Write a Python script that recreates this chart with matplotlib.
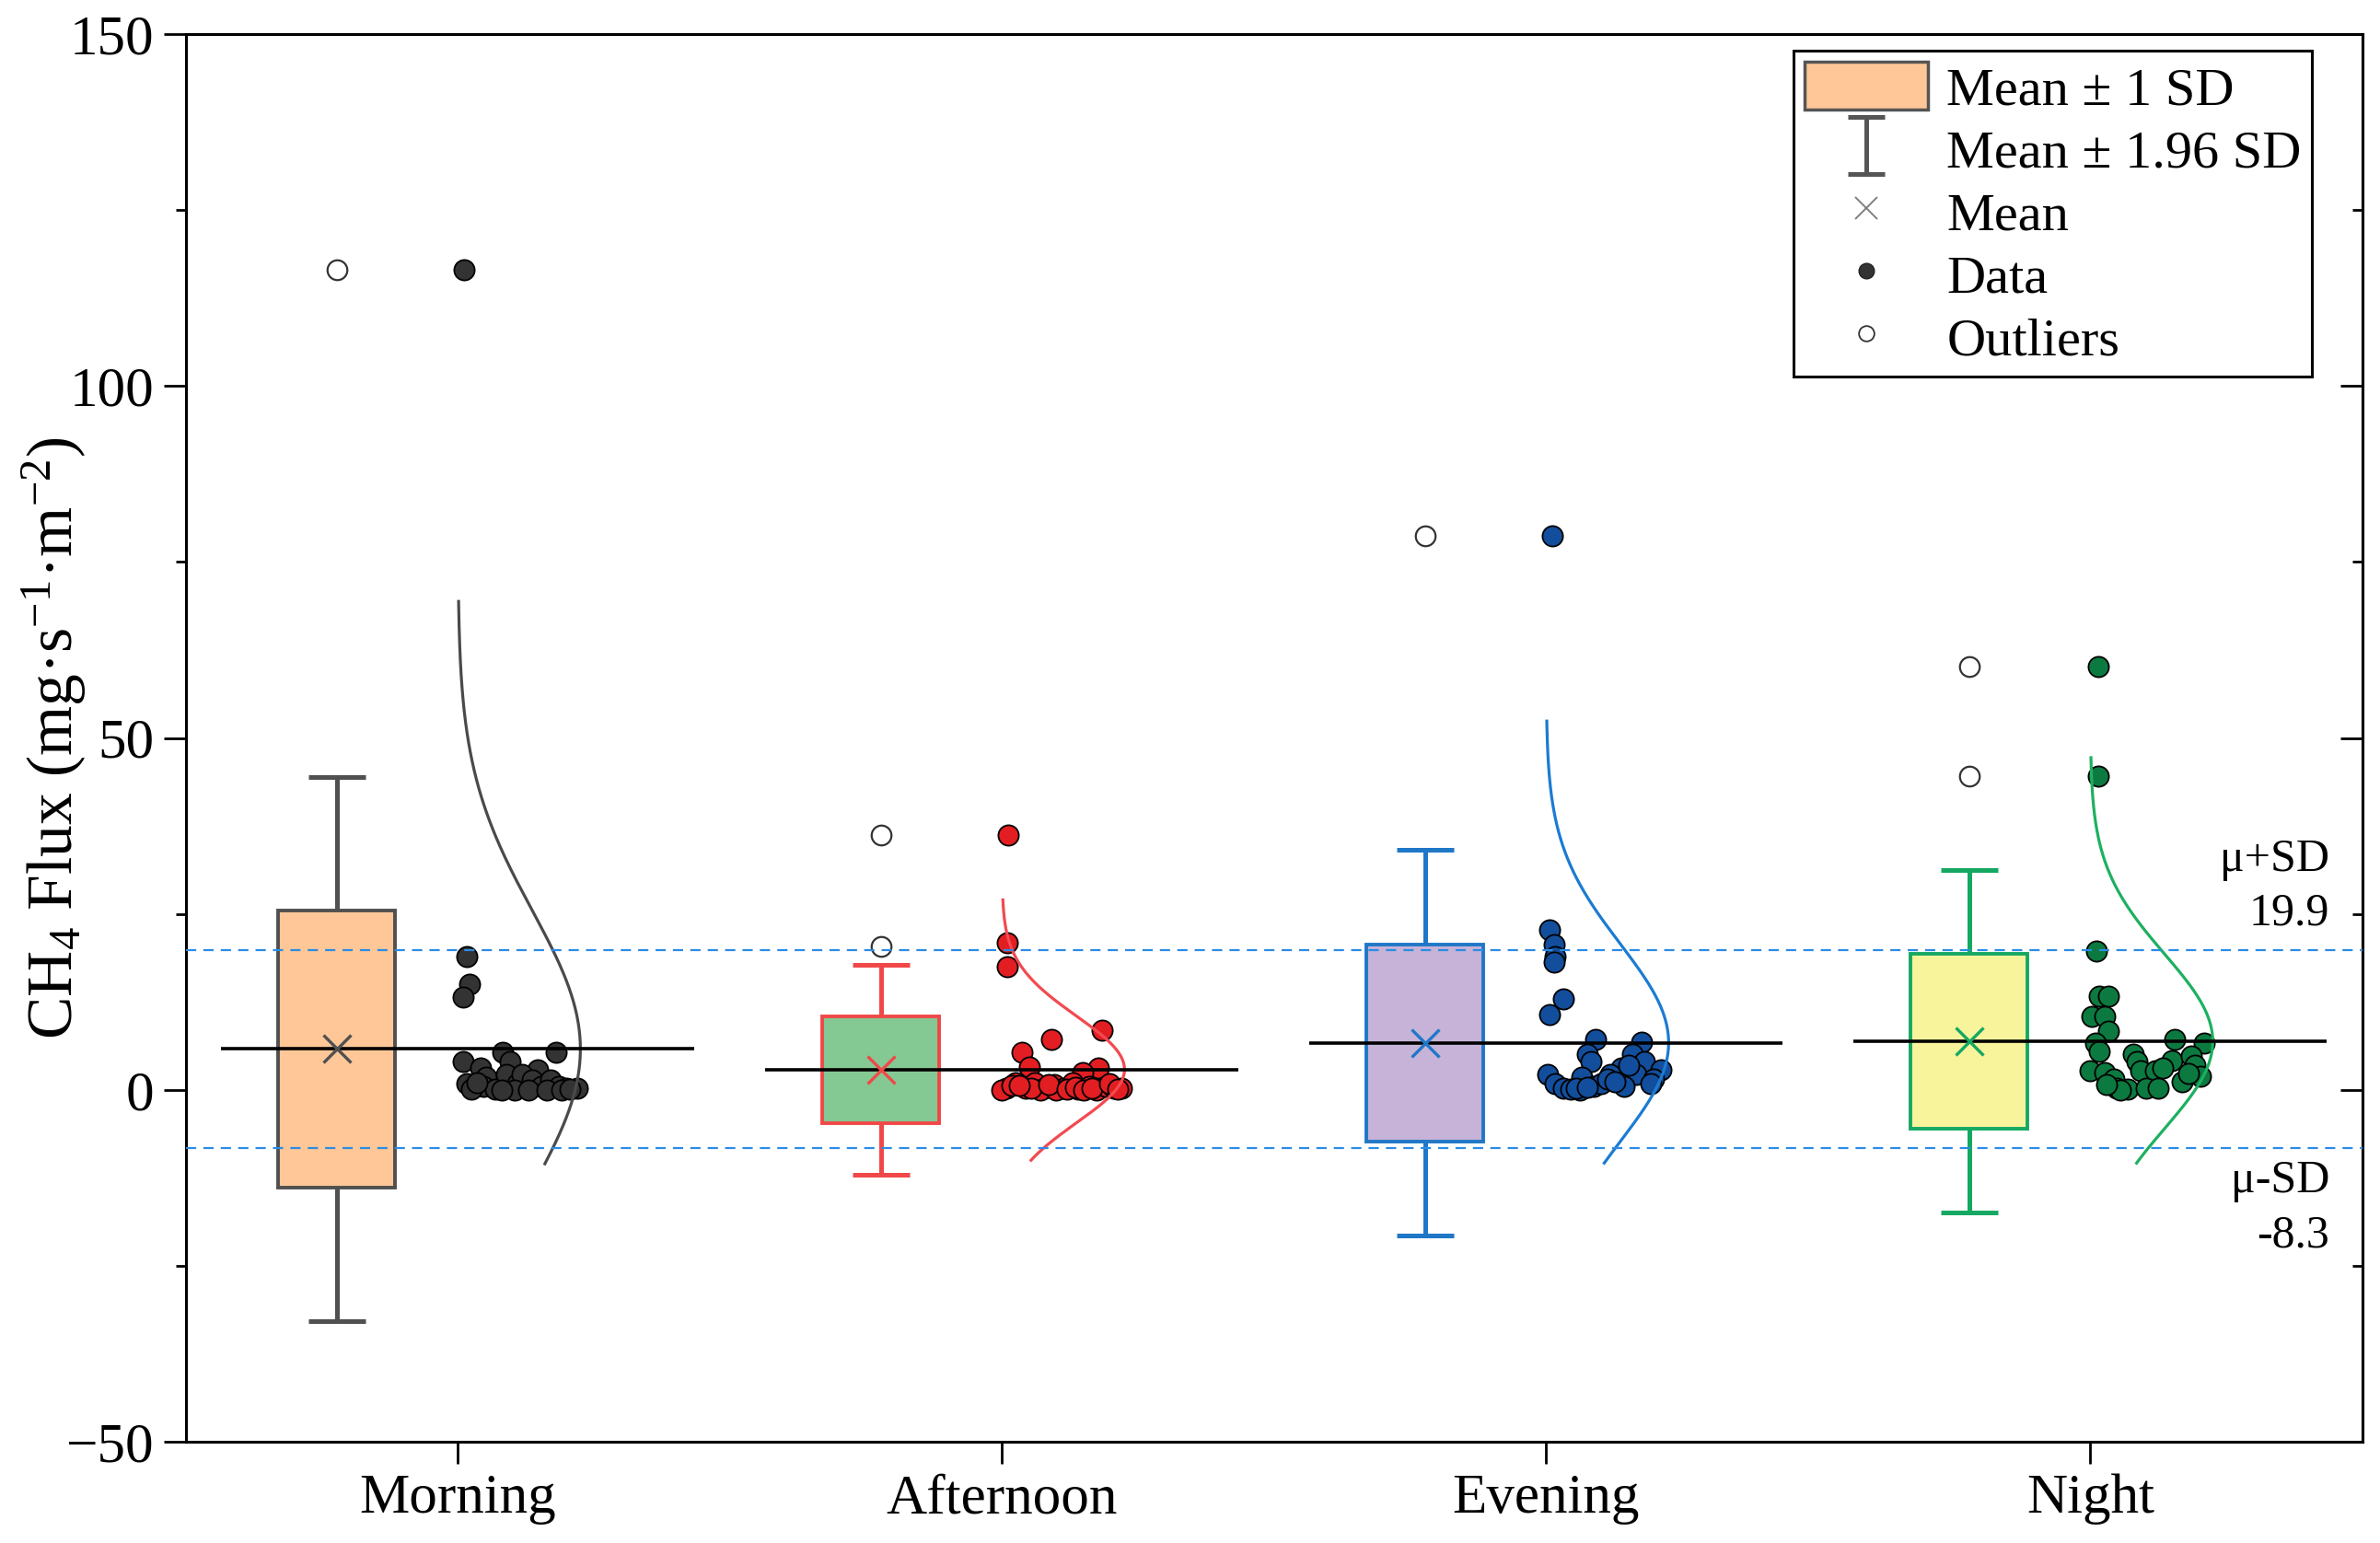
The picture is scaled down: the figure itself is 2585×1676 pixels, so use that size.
import numpy as np
import matplotlib
matplotlib.use("Agg")
import matplotlib.pyplot as plt
from matplotlib.patches import Patch
from matplotlib.lines import Line2D
from matplotlib.path import Path
from matplotlib.transforms import blended_transform_factory

plt.rcParams['font.family'] = ['Liberation Serif', 'DejaVu Serif']
plt.rcParams['mathtext.fontset'] = 'custom'
plt.rcParams['mathtext.rm'] = 'Liberation Serif'

# ---------------- data ----------------
categories = ["Morning", "Afternoon", "Evening", "Night"]
group_mean = [5.8, 2.9, 6.7, 6.9]
group_sd = [19.7, 7.6, 14.0, 12.4]
curve_lo = [-10.5, -10.0, -10.4, -10.4]
curve_hi = [69.4, 27.0, 52.4, 47.2]
overall_plus_sd = 19.9
overall_minus_sd = -8.3

outliers_morning = [116.5]
outliers_afternoon = [36.2, 20.4]
outliers_evening = [78.7]
outliers_night = [60.1, 44.6]

data_morning = [116.5, 19.0, 15.0, 13.2, 4.0, 5.3, 5.3, 4.0, 3.1, 2.9, 0.9, 1.8,
                0.5, 0.05, 2.2, 0.9, 2.2, 1.4, 0.5, 1.4, 0.5, 0.3, 0.3, 0.05,
                0.0, 0.0, 0.0, 0.0, 1.0, 0.0, 0.1]
jitter_morning = [0.011, 0.016, 0.022, 0.009, 0.009, 0.083, 0.181, 0.096, 0.041, 0.147,
                  0.016, 0.052, 0.047, 0.069, 0.089, 0.109, 0.117, 0.137, 0.154, 0.171,
                  0.185, 0.199, 0.219, 0.024, 0.104, 0.130, 0.164, 0.080, 0.035, 0.190,
                  0.205]

data_afternoon = [36.2, 20.9, 17.5, 8.5, 7.2, 5.3, 3.3, 3.1, 2.4, 0.3, 1.0, 0.3,
                  1.0, 0.3, 0.7, 0.3, 1.0, 0.05, 0.5, 0.0, 0.5, 0.3, 0.3, 0.0,
                  0.0, 0.0, 0.6, 0.2, 0.8, 0.1, 0.4, 0.0, 0.2, 0.9, 0.1, 0.6]
jitter_afternoon = [0.011, 0.009, 0.009, 0.183, 0.090, 0.036, 0.050, 0.177, 0.149, 0.008,
                    0.025, 0.044, 0.061, 0.078, 0.095, 0.112, 0.129, 0.140, 0.160, 0.174,
                    0.191, 0.205, 0.219, 0.000, 0.070, 0.100, 0.018, 0.053, 0.086, 0.120,
                    0.134, 0.150, 0.166, 0.198, 0.212, 0.032]

data_evening = [78.7, 22.7, 20.7, 19.0, 18.1, 12.9, 10.7, 7.2, 6.8, 5.1, 4.0, 5.1,
                4.0, 2.9, 3.1, 2.2, 1.8, 2.2, 2.2, 1.6, 0.9, 0.3, 0.05, 0.0,
                0.5, 0.9, 1.6, 0.5, 0.9, 1.2, 3.5, 0.2, 0.4]
jitter_evening = [0.011, 0.006, 0.014, 0.017, 0.014, 0.031, 0.006, 0.090, 0.175, 0.076,
                  0.082, 0.158, 0.180, 0.211, 0.138, 0.003, 0.065, 0.118, 0.166, 0.197,
                  0.017, 0.031, 0.045, 0.062, 0.087, 0.101, 0.113, 0.144, 0.192, 0.127,
                  0.152, 0.055, 0.075]

data_night = [60.1, 44.6, 19.7, 13.3, 13.3, 10.5, 10.5, 8.3, 6.6, 5.5, 7.2, 6.6,
              5.1, 4.2, 4.8, 4.0, 3.5, 2.7, 2.4, 2.7, 2.7, 3.1, 2.0, 1.6,
              1.1, 0.3, 0.05, 0.3, 0.3, 0.0, 0.8, 2.3]
jitter_night = [0.014, 0.014, 0.012, 0.017, 0.034, 0.003, 0.026, 0.034, 0.009, 0.017,
                0.155, 0.209, 0.079, 0.150, 0.186, 0.085, 0.192, 0.000, 0.026, 0.093,
                0.119, 0.133, 0.203, 0.043, 0.169, 0.048, 0.068, 0.102, 0.124, 0.055,
                0.030, 0.180]

data_values = [data_morning, data_afternoon, data_evening, data_night]
data_jitter = [jitter_morning, jitter_afternoon, jitter_evening, jitter_night]
outlier_values = [outliers_morning, outliers_afternoon, outliers_evening, outliers_night]

# ---------------- styles ----------------
box_fill = ["#FFC797", "#84C994", "#C6B3D7", "#F7F49C"]
box_edge = ["#505050", "#F04848", "#1F77C7", "#15A862"]
point_color = ["#333333", "#E21E22", "#124E9C", "#0C7A40"]
curve_color = ["#4A4A4A", "#F24A50", "#1B7BD2", "#1DB060"]
dash_color = "#2A8CE6"

box_offset = -0.223
box_width = 0.215
cap_pts = 22.5
mean_half = 0.435
curve_amp = 0.225

fig = plt.figure(figsize=(25.85, 16.76), dpi=100)
ax = fig.add_axes([0.0781, 0.0656, 0.9145, 0.9123])

xpos = np.arange(1, len(categories) + 1)

for i, cat in enumerate(categories):
    xc = xpos[i]
    bx = xc + box_offset
    m, s = group_mean[i], group_sd[i]
    # whiskers: mean +- 1.96 SD
    ax.errorbar([bx], [m], yerr=[[1.96 * s], [1.96 * s]], fmt='none',
                ecolor=box_edge[i], elinewidth=3.6, capsize=cap_pts, capthick=3.6,
                zorder=1)
    # box: mean +- 1 SD
    ax.bar([bx], [2 * s], bottom=[m - s], width=box_width, color=box_fill[i],
           edgecolor=box_edge[i], linewidth=2.8, zorder=2)
    # outliers
    ax.scatter([bx] * len(outlier_values[i]), outlier_values[i], s=240,
               facecolors='white', edgecolors='#333333', linewidths=1.6, zorder=3)
    # data points
    ax.scatter(xc + np.array(data_jitter[i]), data_values[i], s=255,
               c=point_color[i], edgecolors='black', linewidths=1.3, zorder=3)
    # normal curve
    yy = np.linspace(curve_lo[i], curve_hi[i], 400)
    xx = xc + curve_amp * np.exp(-0.5 * ((yy - m) / s) ** 2)
    ax.plot(xx, yy, color=curve_color[i], lw=2.3, zorder=4)
    # mean line
    ax.hlines(m, xc - mean_half, xc + mean_half, color='black', lw=2.6, zorder=5)
    # mean marker
    ax.plot([bx], [m], marker='x', ms=21, mew=2.4, color=box_edge[i],
            ls='none', zorder=6)

ax.axhline(overall_plus_sd, color=dash_color, ls=(0, (5, 3.5)), lw=1.6, zorder=7)
ax.axhline(overall_minus_sd, color=dash_color, ls=(0, (5, 3.5)), lw=1.6, zorder=7)

tr = blended_transform_factory(ax.transAxes, ax.transData)
ax.text(0.985, 32.7, "\u03bc+SD", transform=tr, ha='right', va='center', fontsize=36)
ax.text(0.985, 25.0, f"{overall_plus_sd:.1f}", transform=tr, ha='right', va='center', fontsize=36)
ax.text(0.985, -12.9, "\u03bc-SD", transform=tr, ha='right', va='center', fontsize=36)
ax.text(0.985, -20.7, f"{overall_minus_sd:.1f}", transform=tr, ha='right', va='center', fontsize=36)

# axes
ax.set_xlim(0.5, 4.5)
ax.set_ylim(-50, 150)
ax.set_xticks(xpos)
ax.set_xticklabels(categories)
ax.set_yticks([-50, 0, 50, 100, 150])
ax.set_yticks([-25, 25, 75, 125], minor=True)
ax.tick_params(axis='both', which='major', labelsize=44, width=2.0, length=17, pad=8)
ax.tick_params(axis='y', which='minor', width=2.0, length=8)
ax.tick_params(axis='y', which='both', direction='out', left=True, right=False)
for side in ['left', 'bottom', 'top', 'right']:
    ax.spines[side].set_linewidth(2.2)
# inward ticks on the right spine
ax_r = ax.secondary_yaxis('right')
ax_r.set_yticks([-50, 0, 50, 100, 150])
ax_r.set_yticks([-25, 25, 75, 125], minor=True)
ax_r.tick_params(which='major', direction='in', length=17, width=2.0, labelright=False)
ax_r.tick_params(which='minor', direction='in', length=8, width=2.0)
ax_r.spines['right'].set_linewidth(2.2)

ax.set_ylabel("CH$\\mathregular{_4}$ Flux (mg\u00b7s$\\mathregular{^{-1}}$\u00b7m$\\mathregular{^{-2}}$)",
              fontsize=50)
ax.yaxis.set_label_coords(-0.045, 0.5)

# legend
ibar = Path([(-0.66, 1), (0.66, 1), (0, 1), (0, -1), (-0.66, -1), (0.66, -1)],
            [Path.MOVETO, Path.LINETO, Path.MOVETO, Path.LINETO, Path.MOVETO, Path.LINETO])
handles = [
    Patch(facecolor=box_fill[0], edgecolor='#555555', linewidth=2.5),
    Line2D([], [], marker=ibar, ls='none', color='#555555', mew=3.6, ms=44),
    Line2D([], [], marker='x', ls='none', color='#808080', mew=1.4, ms=17),
    Line2D([], [], marker='o', ls='none', mfc='#333333', mec='#222222', ms=12),
    Line2D([], [], marker='o', ls='none', mfc='white', mec='#333333', mew=1.3, ms=12),
]
labels = ["Mean \u00b1 1 SD", "Mean \u00b1 1.96 SD", "Mean", "Data", "Outliers"]
leg = ax.legend(handles, labels, loc='upper right', bbox_to_anchor=(0.977, 0.988),
                borderaxespad=0, fontsize=42, frameon=True, fancybox=False,
                edgecolor='black', framealpha=1, handlelength=2.3, handleheight=1.0,
                handletextpad=0.35, labelspacing=0.17, borderpad=0.2)
leg.get_frame().set_linewidth(2.2)

fig.savefig("out.png", dpi=100)
